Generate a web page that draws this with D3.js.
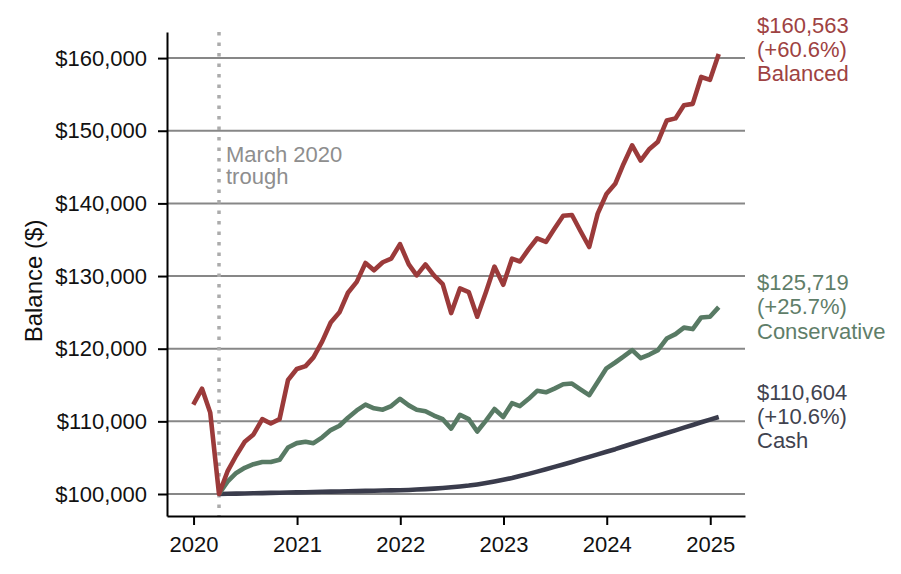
<!DOCTYPE html>
<html>
<head>
<meta charset="utf-8">
<script src="https://cdn.jsdelivr.net/npm/d3@7"></script>
<style>
  html, body { margin: 0; padding: 0; background: #fff; }
  svg { display: block; }
</style>
</head>
<body>
<svg id="chart"></svg>
<script>
// month-end dates, Dec 2019 .. Jan 2025
const dates = d3.utcMonth.range(new Date(Date.UTC(2020, 0, 1)), new Date(Date.UTC(2025, 1, 2)))
    .map(d => d3.utcDay.offset(d, -1));

const troughIndex = 3;
const startBalance = 100000;

const balanced = [
    112300, 114500, 111200, 100000, 103100, 105300, 107200, 108200, 110300, 109700,
    110300, 115700, 117200, 117600, 118800, 121000, 123600, 125000, 127700, 129200,
    131800, 130800, 131900, 132400, 134400, 131600, 130100, 131600, 130100, 128900,
    124900, 128300, 127800, 124400, 127800, 131300, 128800, 132400, 132000, 133700,
    135200, 134700, 136500, 138300, 138400, 136200, 134000, 138600, 141300, 142700,
    145400, 148000, 145900, 147500, 148500, 151400, 151700, 153500, 153700, 157400,
    157000, 160563
];

// these two start at the trough
const conservative = [
    100000, 101700, 102900, 103600, 104100, 104400, 104400, 104700, 106400, 107000,
    107200, 107000, 107800, 108800, 109400, 110500, 111500, 112300, 111800, 111600,
    112100, 113100, 112200, 111600, 111400, 110800, 110300, 109000, 110900, 110300,
    108600, 110100, 111700, 110600, 112500, 112100, 113100, 114200, 114000, 114500,
    115100, 115200, 114400, 113600, 115400, 117300, 118100, 118900, 119800, 118700,
    119200, 119800, 121400, 122000, 122900, 122700, 124300, 124400, 125719
];

const cash = [
    100000, 100025, 100050, 100075, 100100, 100125, 100150, 100175, 100200, 100225,
    100250, 100275, 100300, 100325, 100350, 100375, 100400, 100425, 100450, 100475,
    100500, 100525, 100560, 100610, 100670, 100740, 100820, 100920, 101030, 101160,
    101320, 101510, 101720, 101950, 102200, 102470, 102770, 103080, 103400, 103730,
    104070, 104410, 104760, 105110, 105460, 105810, 106170, 106540, 106910, 107280,
    107650, 108020, 108390, 108760, 109130, 109500, 109870, 110240, 110604
];

const yTicks = [100000, 110000, 120000, 130000, 140000, 150000, 160000];
const xTickYears = [2020, 2021, 2022, 2023, 2024, 2025];

const seriesNames = ['Balanced', 'Conservative', 'Cash'];
const lineColors = ['#9b3a3a', '#587a64', '#3a3c4c'];
const labelColors = ['#9e4242', '#5f7e69', '#41434f'];

const annotationLines = ['March 2020', 'trough'];

const width = 901;
const height = 574;
const margin = { top: 32, right: 156, bottom: 58, left: 167 };
const font = '"Liberation Sans", Arial, Helvetica, sans-serif';
const fontSize = '22px';

const pad = arr => Array(troughIndex).fill(null).concat(arr);
const series = [balanced, pad(conservative), pad(cash)].map((vals, k) => ({
    key: seriesNames[k],
    color: lineColors[k],
    labelColor: labelColors[k],
    values: vals.map((v, i) => ({ date: dates[i], value: v }))
}));

const svg = d3.select('#chart')
    .attr('width', width)
    .attr('height', height)
    .attr('viewBox', [0, 0, width, height])
    .style('font-family', font);

// matplotlib-like 5% margins
const [d0, d1] = d3.extent(dates);
const span = d1 - d0;
const x = d3.scaleUtc()
    .domain([new Date(+d0 - span * 0.05), new Date(+d1 + span * 0.05)])
    .range([margin.left, width - margin.right]);

const allValues = series.flatMap(s => s.values.map(d => d.value)).filter(v => v != null);
const [vmin, vmax] = d3.extent(allValues);
const vpad = (vmax - vmin) * 0.05;
const y = d3.scaleLinear()
    .domain([vmin - vpad, vmax + vpad])
    .range([height - margin.bottom, margin.top]);

// grid lines
svg.append('g')
    .selectAll('line')
    .data(yTicks)
    .join('line')
    .attr('x1', margin.left)
    .attr('x2', width - margin.right)
    .attr('y1', d => y(d))
    .attr('y2', d => y(d))
    .attr('stroke', '#878787')
    .attr('stroke-width', 2);

// trough marker
const troughDate = dates[troughIndex];
svg.append('line')
    .attr('x1', x(troughDate))
    .attr('x2', x(troughDate))
    .attr('y1', margin.top)
    .attr('y2', height - margin.bottom)
    .attr('stroke', '#ababab')
    .attr('stroke-width', 3.5)
    .attr('stroke-dasharray', '3.5,7');

svg.append('text')
    .attr('y', y(145700))
    .attr('fill', '#8e8e8e')
    .style('font-size', fontSize)
    .selectAll('tspan')
    .data(annotationLines)
    .join('tspan')
    .attr('x', x(troughDate) + 7)
    .attr('dy', (d, i) => i === 0 ? 0 : 22.5)
    .text(d => d);

// lines
const line = d3.line()
    .defined(d => d.value != null)
    .x(d => x(d.date))
    .y(d => y(d.value));

svg.append('g')
    .selectAll('path')
    .data(series.slice().reverse())
    .join('path')
    .attr('fill', 'none')
    .attr('stroke', d => d.color)
    .attr('stroke-width', 4.6)
    .attr('stroke-linejoin', 'round')
    .attr('d', d => line(d.values));

// axes
const fmtMoney = d3.format('$,.0f');

svg.append('g')
    .attr('transform', `translate(${margin.left},0)`)
    .call(d3.axisLeft(y).tickValues(yTicks).tickFormat(fmtMoney).tickSize(9).tickPadding(11).tickSizeOuter(0))
    .call(g => g.selectAll('line, path').attr('stroke', '#000').attr('stroke-width', 2))
    .call(g => g.selectAll('text').attr('fill', '#111').style('font-size', fontSize).style('font-family', font));

svg.append('g')
    .attr('transform', `translate(0,${height - margin.bottom})`)
    .call(d3.axisBottom(x)
        .tickValues(xTickYears.map(yr => new Date(Date.UTC(yr, 0, 1))))
        .tickFormat(d3.utcFormat('%Y'))
        .tickSize(9).tickPadding(11).tickSizeOuter(0))
    .call(g => g.selectAll('line, path').attr('stroke', '#000').attr('stroke-width', 2))
    .call(g => g.selectAll('text').attr('fill', '#111').style('font-size', fontSize).style('font-family', font));

svg.append('text')
    .attr('transform', `translate(42,${(margin.top + height - margin.bottom) / 2 + 7}) rotate(-90)`)
    .attr('text-anchor', 'middle')
    .attr('fill', '#111')
    .style('font-size', '24px')
    .text('Balance ($)');

// end labels, middle line centred on the last value
const labelNudge = { Balanced: -4 };
const fmtPct = d3.format('+.1f');
const ends = svg.append('g')
    .style('font-size', fontSize)
    .selectAll('text')
    .data(series)
    .join('text')
    .attr('fill', d => d.labelColor)
    .attr('y', d => y(d.values[d.values.length - 1].value) + (labelNudge[d.key] || 0));

ends.selectAll('tspan')
    .data(d => {
        const last = d.values[d.values.length - 1].value;
        return [fmtMoney(last), `(${fmtPct((last / startBalance - 1) * 100)}%)`, d.key];
    })
    .join('tspan')
    .attr('x', width - margin.right + 12)
    .attr('dy', (d, i) => i === 0 ? '-0.77em' : '1.1em')
    .text(d => d);
</script>
</body>
</html>
